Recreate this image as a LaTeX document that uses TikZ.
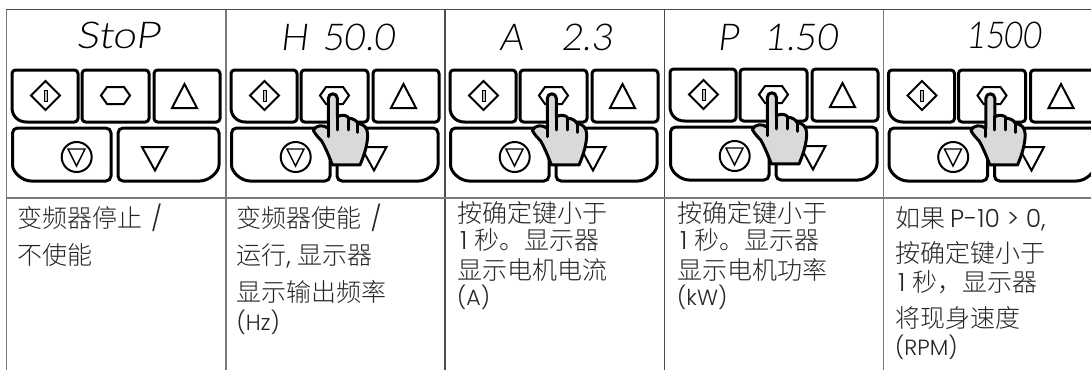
\documentclass[tikz,border=0pt]{standalone}
\usepackage{fontspec}
\newfontfamily\cjkf{Noto Sans CJK SC Light}
\newfontfamily\latf{Poppins Light}
\newfontfamily\segf[FakeSlant=0.12]{Lato Light}
\newcommand{\zh}[1]{{\cjkf #1}}
\tikzset{
  key/.style={draw=black,line width=3pt,rounded corners=3.5pt,fill=white,line join=round},
  icon/.style={draw=black,line width=2pt,line join=miter},
  lbl/.style={anchor=base west,inner sep=0pt,text=black!85,font=\fontsize{25}{25}\selectfont\latf},
  unit/.style={anchor=base west,inner sep=0pt,text=black!85,font=\fontsize{22}{22}\selectfont\latf},
  seg/.style={anchor=base west,inner sep=0pt,text=black,font=\fontsize{37}{37}\selectfont\segf},
  gridv/.style={draw=black!52,line width=1.4pt},
  gridd/.style={draw=black!70,line width=1.1pt},
  handline/.style={draw=black,line width=3pt,line cap=round,line join=round},
}
\newcommand{\keypad}{%
  \draw[key] (45,70) -- (78,70) -- (78,122) -- (30,122) .. controls (18,122) and (12,116) .. (12,104) -- (12,70) -- cycle;
  \draw[key] (115,70) -- (149,70) -- (149,122) -- (82,122) -- (82,70) -- cycle;
  \draw[key] (187,70) -- (220,70) -- (220,122) -- (154,122) -- (154,70) -- cycle;
  \draw[key,rounded corners=5pt] (60,128) -- (111,128) -- (111,181) -- (36,181) .. controls (22,181) and (12.5,172) .. (12.5,160) -- (12.5,128) -- cycle;
  \draw[key,rounded corners=5pt] (170,128) -- (219,128) -- (219,160) .. controls (219,172) and (209,181) .. (195,181) -- (118,181) -- (118,128) -- cycle;
  \draw[icon] (45.5,81) -- (60,95.5) -- (45.5,110) -- (31,95.5) -- cycle;
  \draw[draw=black,line width=1pt,fill=black!25] (44,90) rectangle (47,101);
  \draw[icon] (107,87) -- (124,87) -- (130,95.5) -- (124,104) -- (107,104) -- (101,95.5) -- cycle;
  \draw[icon] (184.5,84) -- (197,108) -- (172,108) -- cycle;
  \draw[icon] (76.7,157) circle (15);
  \draw[icon,line width=1.4pt] (68,149) -- (85,149) -- (76.5,166) -- cycle;
  \draw[icon] (142,147) -- (167.5,147) -- (155,170.5) -- cycle;
}
\newcommand{\hand}{%
  \begin{scope}[shift={(81,75)},x=.3333pt,y=-.3333pt]
    \draw[handline,fill=black!15]
      (85,70) .. controls (85,52) and (112,52) .. (112,70) -- (112,125)
      .. controls (125,118) and (142,120) .. (147,130)
      .. controls (158,130) and (170,136) .. (174,146)
      .. controls (190,146) and (203,158) .. (203,178)
      .. controls (203,205) and (195,235) .. (180,270)
      -- (97,270) .. controls (88,245) and (75,215) .. (65,198)
      .. controls (58,190) and (45,178) .. (40,166)
      .. controls (48,150) and (70,148) .. (85,160) -- cycle;
    \draw[handline] (85,160) -- (85,185);
    \draw[handline] (112,125) -- (112,165);
    \draw[handline] (145,132) -- (145,165);
    \draw[handline] (174,146) -- (174,172);
  \end{scope}}
\begin{document}
\begin{tikzpicture}[x=1pt,y=-1pt]
\useasboundingbox[fill=white] (0,0) rectangle (1091,370);
\begin{scope}
\clip (0,0) rectangle (1091,370);
\foreach \dx/\dy in {0/0,219/0,438/0,658/-1,876.5/0}{
  \begin{scope}[shift={(\dx pt,-\dy pt)}]
    \keypad
  \end{scope}
}
\foreach \dx/\dy in {219/0,438/0,658/-1,876.5/0}{
  \begin{scope}[shift={(\dx pt,-\dy pt)}]
    \hand
  \end{scope}
}
\end{scope}
\draw[gridd] (6,9.5) -- (1091,9.5);
\draw[gridv] (6.5,9.5) -- (6.5,370);
\draw[gridv] (226,9.5) -- (226,370);
\draw[gridd] (445,9.5) -- (445,370);
\draw[gridd] (664.5,9.5) -- (664.5,370);
\draw[gridv] (883.5,9.5) -- (883.5,370);
\draw[gridv] (6,198) -- (1091,198);

\node[seg,xscale=1.15] (d1) at (76,48) {StoP};
\node[seg] (d2) at (280,50) {H\hspace{14pt}50.0};
\node[seg] (d3) at (499,50) {A\hspace{38pt}2.3};
\node[seg] (d4) at (717,50) {P\hspace{26pt}1.50};
\node[seg,xscale=.88] (d5) at (966,48) {1500};

\node[lbl] (a1) at (17,227) {\zh{变频器停止}\hspace{9pt}/};
\node[lbl] (a2) at (17,264) {\zh{不使能}};

\node[lbl] (b1) at (236.5,227) {\zh{变频器使能}\hspace{9pt}/};
\node[lbl] (b2) at (236.5,264) {\zh{运行}, \zh{显示器}};
\node[lbl] (b3) at (236.5,301) {\zh{显示输出频率}};
\node[unit] (b4) at (236.5,330) {(Hz)};

\node[lbl] (c1) at (457,222) {\zh{按确定键小于}};
\node[lbl] (c2) at (457,249) {\hspace{3pt}1\hspace{7pt}\zh{秒。显示器}};
\node[lbl] (c3) at (457,279) {\zh{显示电机电流}};
\node[unit] (c4) at (457,305) {(A)};

\node[lbl] (e1) at (677,222) {\zh{按确定键小于}};
\node[lbl] (e2) at (677,249) {\hspace{3pt}1\hspace{7pt}\zh{秒。显示器}};
\node[lbl] (e3) at (677,279) {\zh{显示电机功率}};
\node[unit] (e4) at (677,305) {(kW)};

\node[lbl] (f1) at (895,227) {\zh{如果}\hspace{5pt}{\fontsize{25}{25}\selectfont P-10 > 0,}};
\node[lbl] (f2) at (895,262) {\zh{按确定键小于}};
\node[lbl] (f3) at (895,291) {\hspace{3pt}1\hspace{7pt}\zh{秒，显示器}};
\node[lbl] (f4) at (895,327) {\zh{将现身速度}};
\node[unit] (f5) at (895,355) {(RPM)};
\end{tikzpicture}
\end{document}
